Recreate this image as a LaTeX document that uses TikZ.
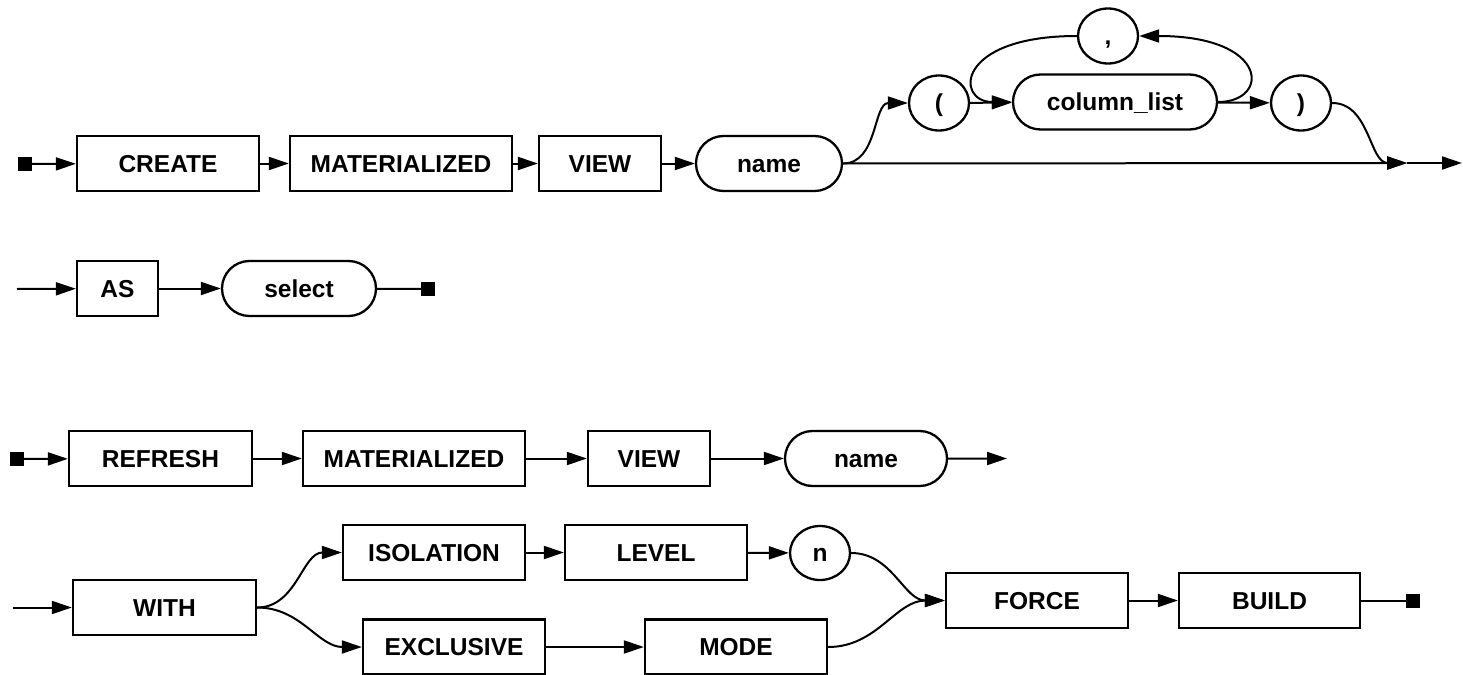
\documentclass[tikz,border=0pt]{standalone}
\usepackage{fontspec}
\setmainfont{Liberation Sans}
\usetikzlibrary{arrows.meta,shapes.misc,shapes.geometric}

\tikzset{
  kw/.style={draw, rectangle, line width=2.3pt, minimum height=55pt, inner sep=0pt,
             text height=18pt, text depth=1pt,
             font=\bfseries\fontsize{24.5}{28}\selectfont},
  ref/.style={kw, rounded rectangle},
  sym/.style={kw, ellipse, minimum width=60pt, minimum height=55pt},
  term/.style={draw, fill, rectangle, minimum size=13pt, inner sep=0pt, line width=0.5pt},
  conn/.style={line width=2pt, -{Triangle[length=20pt,width=13pt]}},
  wire/.style={line width=2pt},
}

\begin{document}
\begin{tikzpicture}[x=1pt,y=-1pt]
\useasboundingbox (0,0) rectangle (1463,674);

% ---- CREATE MATERIALIZED VIEW name [ ( column_list {, column_list} ) ]
\node[term] (s1) at (25,164) {};
\node[kw, minimum width=182pt] (create) at (168,163.5) {CREATE};
\node[kw, minimum width=222pt] (mat1) at (401,163.5) {MATERIALIZED};
\node[kw, minimum width=122pt] (view1) at (600,163.5) {VIEW};
\node[ref, minimum width=146pt] (name1) at (769,163.5) {name};
\node[sym] (lp) at (939,103) {(};
\node[ref, minimum width=204pt] (col) at (1115,102) {column\_list};
\node[sym] (comma) at (1108,36) {,};
\node[sym] (rp) at (1301,103) {)};
\coordinate (join1) at (1407,163);
\coordinate (out1) at (1462,163);

\draw[conn] (s1) -- (create);
\draw[conn] (create) -- (mat1);
\draw[conn] (mat1) -- (view1);
\draw[conn] (view1) -- (name1);
\draw[conn] (name1.east) -- (join1);
\draw[conn] (name1.east) to[out=0,in=180] (lp.west);
\draw[conn] (lp) -- (col);
\draw[conn] (col) -- (rp);
\draw[conn] (col.east) .. controls (1270,102) and (1270,36) .. (comma.east);
\draw[conn] (comma.west) .. controls (955,36) and (955,102) .. (col.west);
\draw[conn] (rp.east) to[out=0,in=180] (join1);
\draw[conn] (join1) -- (out1);

% ---- AS select
\coordinate (in2) at (17,289);
\node[kw, minimum width=81pt] (as) at (117.5,288.5) {AS};
\node[ref, minimum width=154pt] (select) at (299,288.5) {select};
\node[term] (e2) at (428,289) {};

\draw[conn] (in2) -- (as);
\draw[conn] (as) -- (select);
\draw[wire] (select) -- (e2);

% ---- REFRESH MATERIALIZED VIEW name
\node[term] (s3) at (17,459) {};
\node[kw, minimum width=183pt] (refresh) at (160.5,458.5) {REFRESH};
\node[kw, minimum width=222pt] (mat2) at (414,458.5) {MATERIALIZED};
\node[kw, minimum width=122pt] (view2) at (649,458.5) {VIEW};
\node[ref, minimum width=162pt] (name2) at (866,458.5) {name};
\coordinate (out3) at (1007,458.5);

\draw[conn] (s3) -- (refresh);
\draw[conn] (refresh) -- (mat2);
\draw[conn] (mat2) -- (view2);
\draw[conn] (view2) -- (name2);
\draw[conn] (name2) -- (out3);

% ---- WITH ISOLATION LEVEL n | EXCLUSIVE MODE, FORCE BUILD
\coordinate (in4) at (13,607.5);
\node[kw, minimum width=183pt] (with) at (164.5,607.5) {WITH};
\node[kw, minimum width=182pt] (iso) at (434,552.5) {ISOLATION};
\node[kw, minimum width=182pt] (level) at (656,552.5) {LEVEL};
\node[sym, minimum height=54pt] (n) at (820,553) {n};
\node[kw, minimum width=182pt] (excl) at (454,647) {EXCLUSIVE};
\node[kw, minimum width=182pt] (mode) at (736,647) {MODE};
\node[kw, minimum width=182pt] (force) at (1037,600.5) {FORCE};
\node[kw, minimum width=181pt] (build) at (1269.5,600.5) {BUILD};
\node[term] (e4) at (1413,600.5) {};

\draw[conn] (in4) -- (with);
\draw[conn] (with.east) to[out=0,in=180] (iso.west);
\draw[conn] (with.east) to[out=0,in=180] (excl.west);
\draw[conn] (iso) -- (level);
\draw[conn] (level) -- (n);
\draw[conn] (excl) -- (mode);
\draw[conn] (n.east) to[out=0,in=180] (force.west);
\draw[conn] (mode.east) to[out=0,in=180] (force.west);
\draw[conn] (force) -- (build);
\draw[wire] (build) -- (e4);
\end{tikzpicture}
\end{document}
